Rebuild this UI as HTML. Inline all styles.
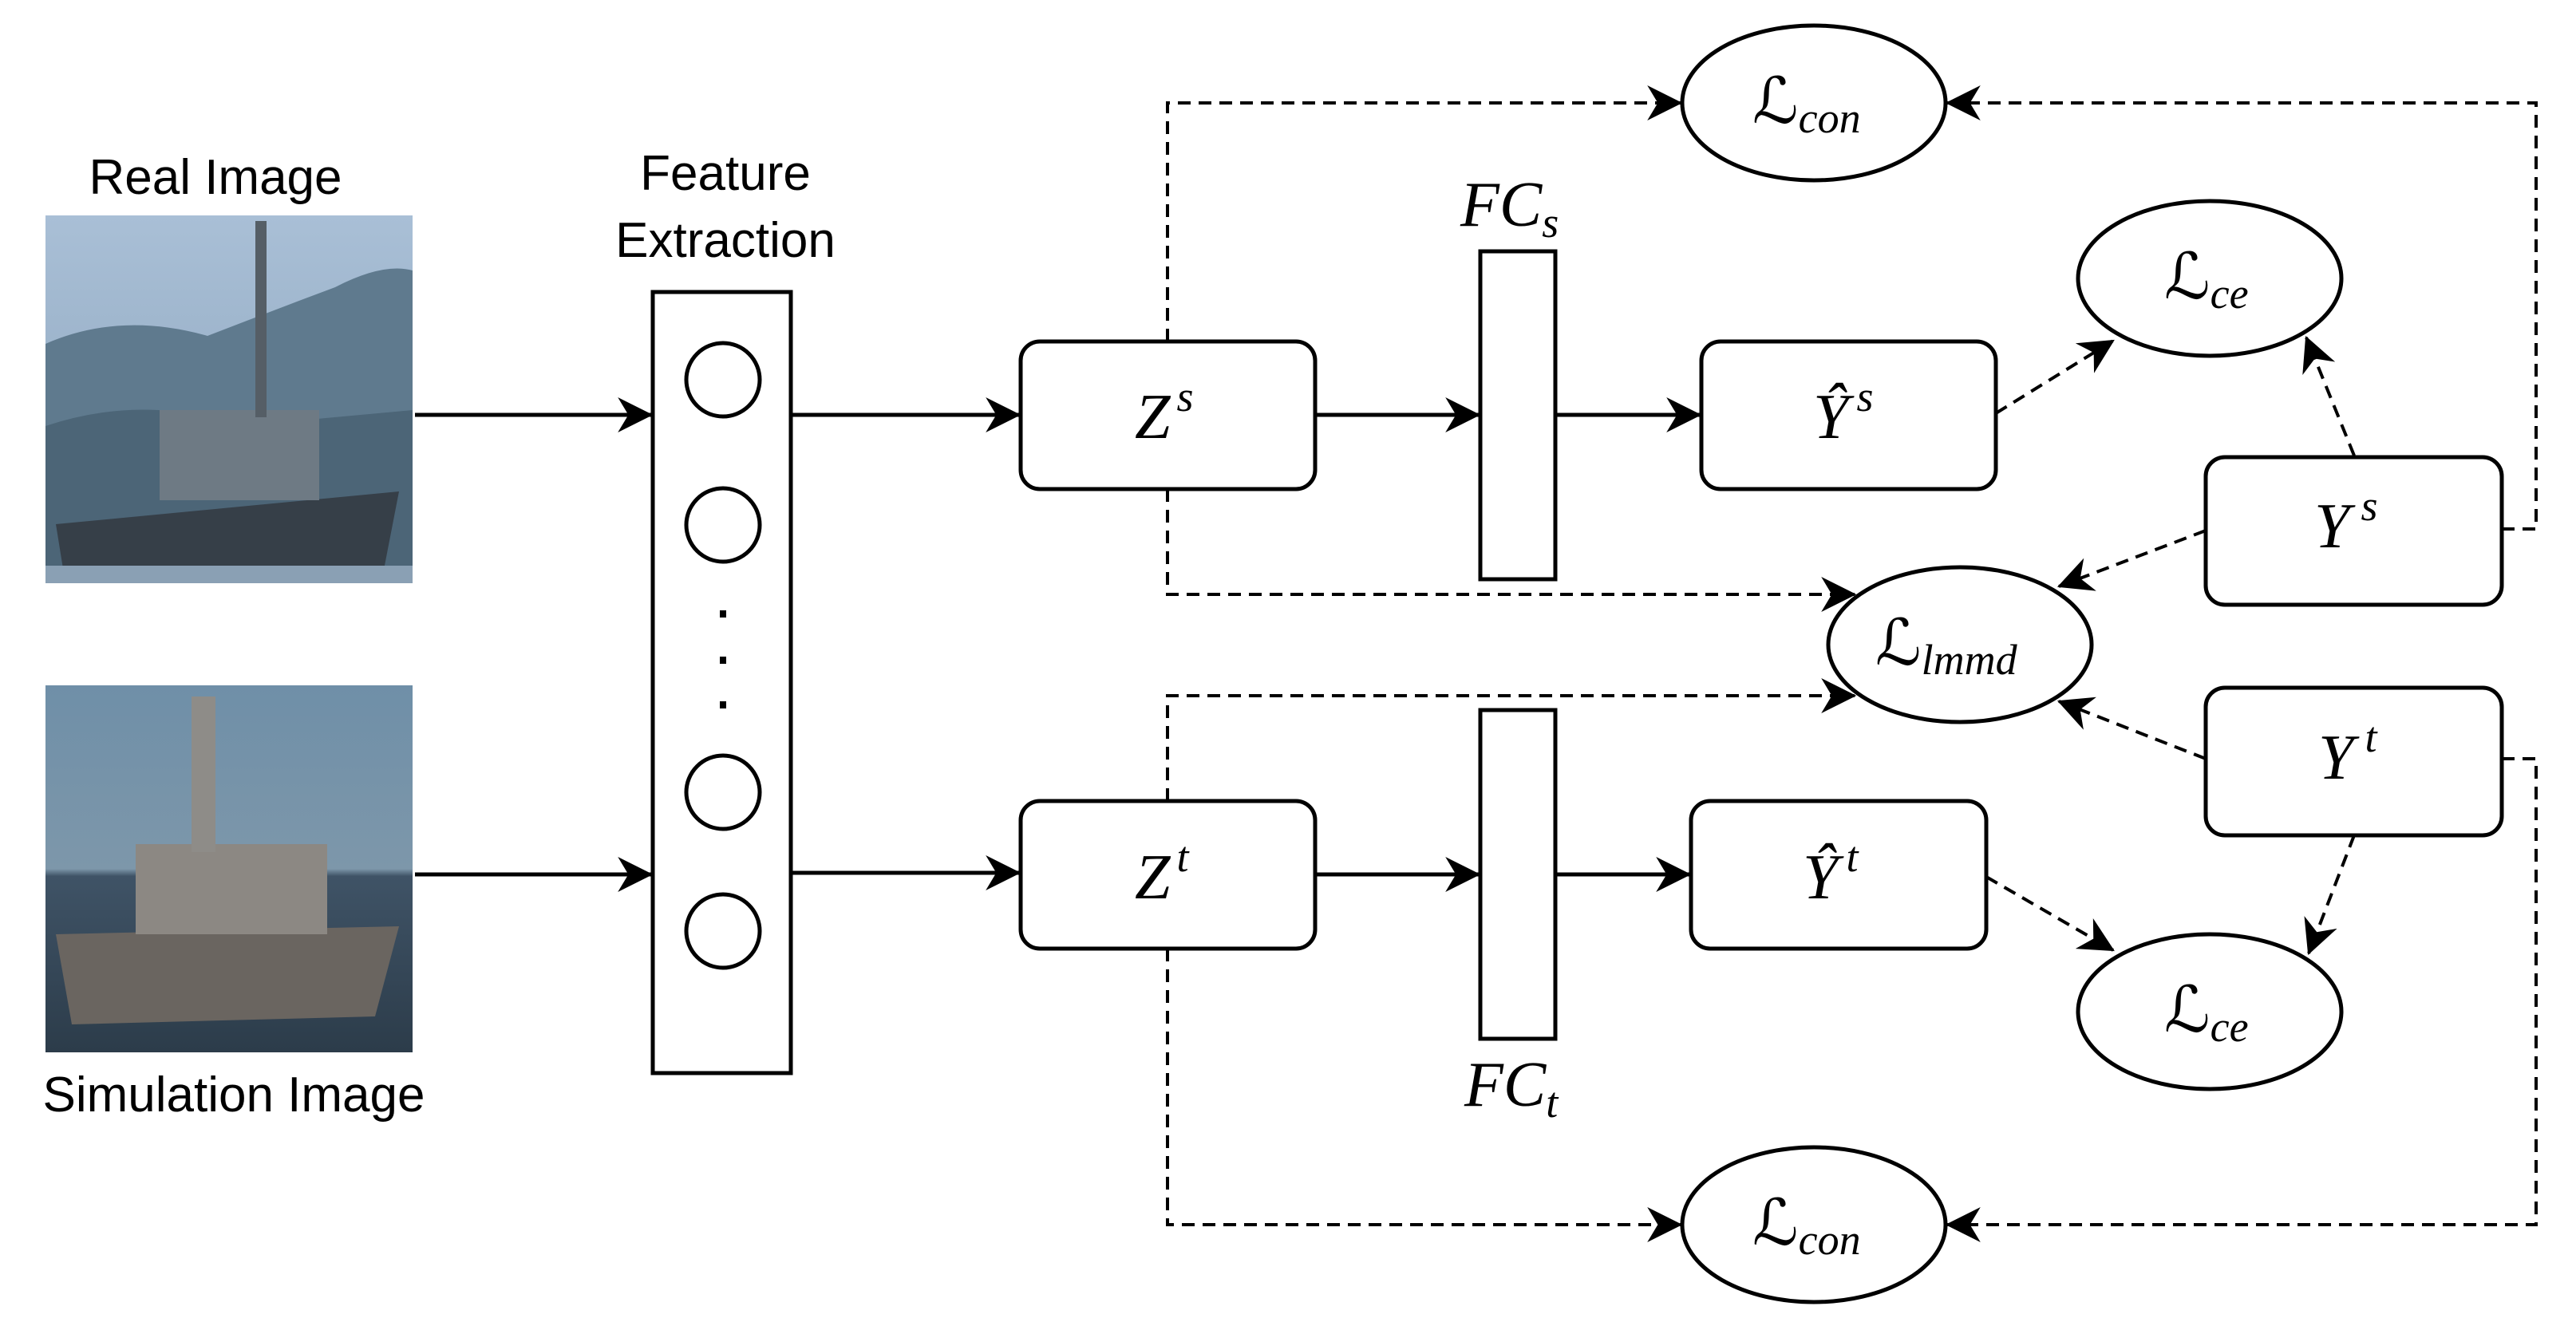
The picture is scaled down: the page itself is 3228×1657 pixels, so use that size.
<!DOCTYPE html>
<html><head><meta charset="utf-8"><style>
html,body{margin:0;padding:0;background:#fff;}
svg{display:block;}
.t{font-family:"Liberation Sans",sans-serif;font-size:62px;fill:#000;}
.m{font-family:"Liberation Serif","DejaVu Serif",serif;font-style:italic;font-size:80px;fill:#000;}
.L{font-family:"DejaVu Serif","Liberation Serif",serif;font-size:80px;fill:#000;}
.sub{font-family:"Liberation Serif",serif;font-style:italic;font-size:54px;}
</style></head><body>
<svg width="3228" height="1657" viewBox="0 0 3228 1657" xmlns="http://www.w3.org/2000/svg">
<defs>
<marker id="b" viewBox="0 0 20 20" refX="19" refY="10" markerWidth="44" markerHeight="44" markerUnits="userSpaceOnUse" orient="auto">
<path d="M0,0 L20,10 L0,20 L6,10 Z" fill="#000"/></marker>
<linearGradient id="sky1" x1="0" y1="0" x2="0" y2="1"><stop offset="0" stop-color="#a9bfd6"/><stop offset="1" stop-color="#8aa3bb"/></linearGradient>
<linearGradient id="sky2" x1="0" y1="0" x2="0" y2="1"><stop offset="0" stop-color="#6f8fa8"/><stop offset="0.5" stop-color="#7d97aa"/><stop offset="0.52" stop-color="#3f5366"/><stop offset="1" stop-color="#2c3c4a"/></linearGradient>
</defs>
<rect x="57" y="270" width="460" height="461" fill="url(#sky1)"/>
<path d="M57,431 Q150,390 260,421 Q340,390 420,360 Q480,329 517,339 L517,731 L57,731 Z" fill="#5f7a8e"/>
<path d="M57,534 Q180,493 300,534 L517,514 L517,731 L57,731Z" fill="#4c6577"/>
<path d="M70,657 L500,616 L480,719 L80,719Z" fill="#363f48"/>
<rect x="200" y="514" width="200" height="113" fill="#6e7a84"/>
<rect x="320" y="277" width="14" height="246" fill="#555e66"/>
<rect x="57" y="709" width="460" height="22" fill="#8aa0b4"/>
<rect x="57" y="859" width="460" height="460" fill="url(#sky2)"/>
<path d="M70,1171 L500,1161 L470,1274 L90,1284Z" fill="#6a6560"/>
<rect x="170" y="1058" width="240" height="113" fill="#8c8883"/>
<rect x="240" y="873" width="30" height="195" fill="#8e8c88"/>
<text class="t" x="270" y="243" text-anchor="middle">Real Image</text>
<text class="t" x="293" y="1393" text-anchor="middle">Simulation Image</text>
<text class="t" x="909" y="238" text-anchor="middle">Feature</text>
<text class="t" x="909" y="322" text-anchor="middle">Extraction</text>
<g fill="none" stroke="#000" stroke-width="5">
<rect x="818" y="366" width="173" height="979" fill="#fff"/>
<circle cx="906" cy="476" r="46"/><circle cx="906" cy="658" r="46"/>
<circle cx="906" cy="993" r="46"/><circle cx="906" cy="1167" r="46"/>
<line x1="520" y1="520" x2="816" y2="520" marker-end="url(#b)"/>
<line x1="520" y1="1096" x2="816" y2="1096" marker-end="url(#b)"/>
<line x1="991" y1="520" x2="1277" y2="520" marker-end="url(#b)"/>
<line x1="991" y1="1094" x2="1277" y2="1094" marker-end="url(#b)"/>
<line x1="1648" y1="520" x2="1853" y2="520" marker-end="url(#b)"/>
<line x1="1949" y1="520" x2="2130" y2="520" marker-end="url(#b)"/>
<line x1="1648" y1="1096" x2="1853" y2="1096" marker-end="url(#b)"/>
<line x1="1949" y1="1096" x2="2117" y2="1096" marker-end="url(#b)"/>
</g>
<g fill="#000"><rect x="902" y="765" width="8" height="9"/><rect x="902" y="823" width="8" height="9"/><rect x="902" y="879" width="8" height="9"/></g>
<g fill="none" stroke="#000" stroke-width="4" stroke-dasharray="16,10">
<polyline points="1463,428 1463,129 2106,129" marker-end="url(#b)"/>
<polyline points="3135,663 3178,663 3178,129 2440,129" marker-end="url(#b)"/>
<polyline points="1463,613 1463,745 2324,745" marker-end="url(#b)"/>
<polyline points="1463,1004 1463,872 2324,872" marker-end="url(#b)"/>
<polyline points="1463,1189 1463,1535 2106,1535" marker-end="url(#b)"/>
<polyline points="3135,951 3178,951 3178,1535 2440,1535" marker-end="url(#b)"/>
<line x1="2501" y1="518" x2="2648" y2="427" marker-end="url(#b)"/>
<line x1="2950" y1="571" x2="2890" y2="423" marker-end="url(#b)"/>
<line x1="2764" y1="665" x2="2580" y2="735" marker-end="url(#b)"/>
<line x1="2764" y1="951" x2="2580" y2="879" marker-end="url(#b)"/>
<line x1="2950" y1="1047" x2="2893" y2="1195" marker-end="url(#b)"/>
<line x1="2489" y1="1099" x2="2648" y2="1191" marker-end="url(#b)"/>
</g>
<g fill="#fff" stroke="#000" stroke-width="5">
<rect x="1279" y="428" width="369" height="185" rx="24"/>
<rect x="1279" y="1004" width="369" height="185" rx="24"/>
<rect x="1855" y="315" width="94" height="411"/>
<rect x="1855" y="890" width="94" height="412"/>
<rect x="2132" y="428" width="369" height="185" rx="24"/>
<rect x="2119" y="1004" width="370" height="185" rx="24"/>
<rect x="2764" y="573" width="371" height="185" rx="24"/>
<rect x="2764" y="862" width="371" height="185" rx="24"/>
<ellipse cx="2273" cy="129" rx="165" ry="97"/>
<ellipse cx="2273" cy="1535" rx="165" ry="97"/>
<ellipse cx="2769" cy="349" rx="165" ry="97"/>
<ellipse cx="2769" cy="1268" rx="165" ry="97"/>
<ellipse cx="2456" cy="808" rx="165" ry="97"/>
</g>
<text class="m" x="1422" y="549">Z<tspan class="sub" dx="8" dy="-34">s</tspan></text>
<text class="m" x="1422" y="1126">Z<tspan class="sub" dx="8" dy="-34">t</tspan></text>
<text class="m" x="1830" y="283">FC<tspan class="sub" dy="14">s</tspan></text>
<text class="m" x="1835" y="1386">FC<tspan class="sub" dy="14">t</tspan></text>
<text class="m" x="2272" y="549">Ŷ<tspan class="sub" dx="10" dy="-34">s</tspan></text>
<text class="m" x="2259" y="1126">Ŷ<tspan class="sub" dx="10" dy="-34">t</tspan></text>
<text class="m" x="2900" y="686">Y<tspan class="sub" dx="14" dy="-34">s</tspan></text>
<text class="m" x="2905" y="976">Y<tspan class="sub" dx="14" dy="-34">t</tspan></text>
<text class="L" x="2196" y="154">ℒ<tspan class="sub" dy="12">con</tspan></text>
<text class="L" x="2196" y="1560">ℒ<tspan class="sub" dy="12">con</tspan></text>
<text class="L" x="2712" y="374">ℒ<tspan class="sub" dy="12">ce</tspan></text>
<text class="L" x="2712" y="1293">ℒ<tspan class="sub" dy="12">ce</tspan></text>
<text class="L" x="2350" y="833">ℒ<tspan class="sub" dy="12">lmmd</tspan></text>
</svg>
</body></html>
